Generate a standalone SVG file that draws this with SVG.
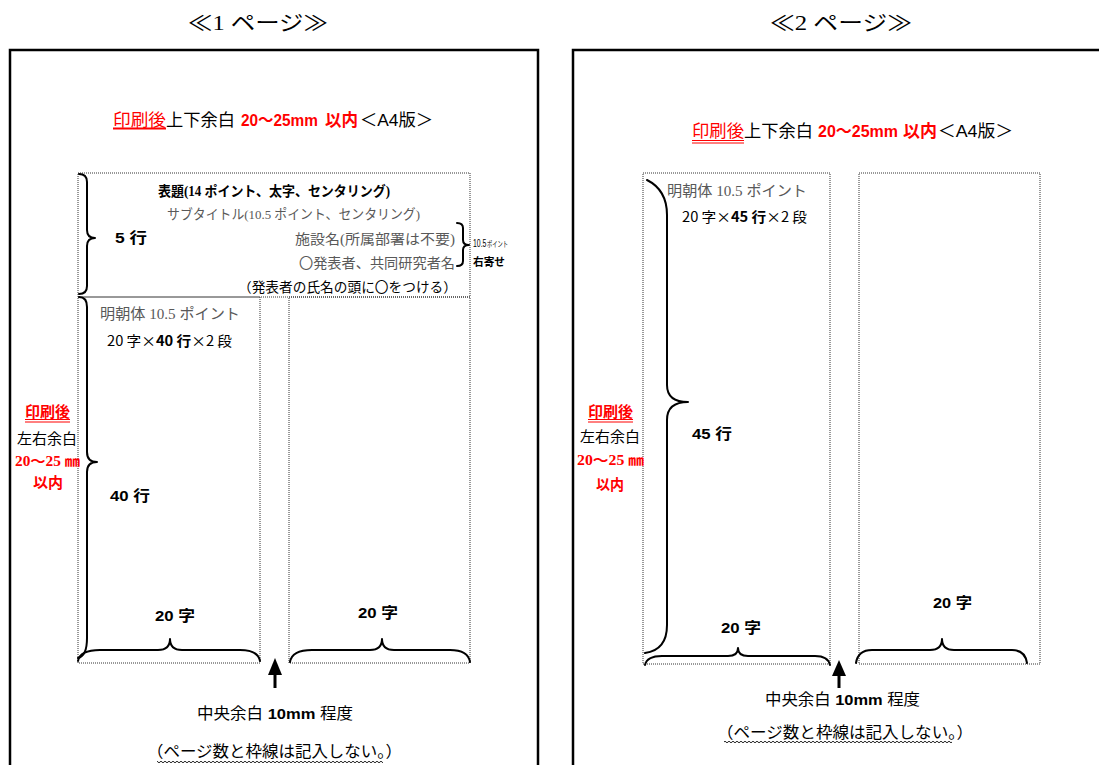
<svg xmlns="http://www.w3.org/2000/svg" width="1099" height="765" viewBox="0 0 1099 765">
<defs>
<style>
.frame{fill:none;stroke:#000;stroke-width:2.5}
.box{fill:none;stroke:#333;stroke-width:1;stroke-dasharray:1 1}
.brace{fill:none;stroke:#000;stroke-width:2;stroke-linecap:round;stroke-linejoin:round}
.serif{font-family:"Liberation Serif","Noto Sans CJK JP",serif}
.sans{font-family:"Liberation Sans","Noto Sans CJK JP",sans-serif}
.gray{fill:#595959}
.red{fill:#ff0000}
.b{font-weight:bold}
</style>
<pattern id="wave" x="0" y="0" width="4" height="4" patternUnits="userSpaceOnUse">
<path d="M0 2 Q1 0.4 2 2 T4 2" fill="none" stroke="#222" stroke-width="1"/>
</pattern>
</defs>
<rect width="1099" height="765" fill="#fff"/>

<g id="titles">
<text class="serif" x="188" y="30" font-size="21" textLength="140" lengthAdjust="spacingAndGlyphs">≪1 ページ≫</text>
<text class="serif" x="770" y="30" font-size="21" textLength="142" lengthAdjust="spacingAndGlyphs">≪2 ページ≫</text>
</g>

<g id="page1">
<path class="frame" d="M10 765 L10 50 L538 50 L538 765"/>
<rect class="box" x="78" y="173" width="392" height="124"/>
<rect class="box" x="78" y="297" width="182" height="366"/>
<rect class="box" x="289" y="297" width="181" height="366"/>
<g id="p1-margin-title" class="sans" font-size="17">
<text x="113" y="126" textLength="53" lengthAdjust="spacingAndGlyphs" class="red">印刷後</text>
<text x="166" y="126" textLength="69" lengthAdjust="spacingAndGlyphs">上下余白</text>
<text x="241" y="126" textLength="77" lengthAdjust="spacingAndGlyphs" class="red b">20〜25mm</text>
<text x="325" y="126" textLength="33" lengthAdjust="spacingAndGlyphs" class="red b">以内</text>
<text x="360" y="126" textLength="73" lengthAdjust="spacingAndGlyphs">＜A4版＞</text>
<line x1="113" y1="128.5" x2="166" y2="128.5" stroke="#f00" stroke-width="2"/>
</g>
<g id="p1-header">
<text class="serif b" x="158" y="196" font-size="14" textLength="232" lengthAdjust="spacingAndGlyphs">表題(14 ポイント、太字、センタリング)</text>
<text class="serif gray" x="167" y="219" font-size="13.5" textLength="253" lengthAdjust="spacingAndGlyphs">サブタイトル(10.5 ポイント、センタリング)</text>
<text class="serif gray" x="295" y="244" font-size="14" textLength="160" lengthAdjust="spacingAndGlyphs">施設名(所属部署は不要)</text>
<text class="gray" font-family="Noto Sans CJK JP, sans-serif" x="299" y="268" font-size="14" textLength="156" lengthAdjust="spacingAndGlyphs">〇発表者、共同研究者名</text>
<text font-family="Noto Sans CJK JP, sans-serif" x="238" y="292" font-size="13.5" textLength="219" lengthAdjust="spacingAndGlyphs">（発表者の氏名の頭に〇をつける）</text>
<text class="sans b" x="115" y="243" font-size="15" textLength="32" lengthAdjust="spacingAndGlyphs">5 行</text>
<text class="sans" x="473" y="247" font-size="10.5" textLength="35" lengthAdjust="spacingAndGlyphs">10.5<tspan font-size="8" dx="1">ポイント</tspan></text>
<text class="sans b" x="473" y="266" font-size="11" textLength="32" lengthAdjust="spacingAndGlyphs">右寄せ</text>
</g>
<g id="p1-body">
<text class="serif gray" x="100" y="319" font-size="15" textLength="140" lengthAdjust="spacingAndGlyphs">明朝体 10.5 ポイント</text>
<text font-family="Noto Sans CJK JP, sans-serif" x="107" y="346" font-size="14" textLength="125" lengthAdjust="spacingAndGlyphs">20 字×<tspan class="b">40 行</tspan>×2 段</text>
<text class="sans b" x="110" y="501" font-size="15" textLength="40" lengthAdjust="spacingAndGlyphs">40 行</text>
<text class="sans b" x="155" y="621" font-size="15" textLength="40" lengthAdjust="spacingAndGlyphs">20 字</text>
<text class="sans b" x="358" y="618" font-size="15" textLength="40" lengthAdjust="spacingAndGlyphs">20 字</text>
</g>
<g id="p1-side">
<text class="serif b red" x="25" y="417" font-size="14.5" textLength="45" lengthAdjust="spacingAndGlyphs">印刷後</text>
<line x1="25" y1="419.5" x2="70" y2="419.5" stroke="#f00" stroke-width="1"/>
<line x1="25" y1="422" x2="70" y2="422" stroke="#f00" stroke-width="1"/>
<text class="serif" x="17" y="444" font-size="14.5" textLength="60" lengthAdjust="spacingAndGlyphs">左右余白</text>
<text class="serif b red" x="15" y="466" font-size="14" textLength="65" lengthAdjust="spacingAndGlyphs">20〜25 ㎜</text>
<text class="serif b red" x="33" y="488" font-size="14.5" textLength="30" lengthAdjust="spacingAndGlyphs">以内</text>
</g>
<g id="p1-footer">
<text class="sans" x="197" y="719" font-size="15.5" textLength="156" lengthAdjust="spacingAndGlyphs">中央余白 <tspan class="b">10mm</tspan> 程度</text>
<text class="sans" x="147" y="757" font-size="16" textLength="255" lengthAdjust="spacingAndGlyphs">（ページ数と枠線は記入しない。）</text>
<rect x="157" y="760" width="226" height="4" fill="url(#wave)"/>
</g>
</g>

<g id="page2">
<path class="frame" d="M573 765 L573 50 L1101 50"/>
<rect class="box" x="643" y="173" width="187" height="491"/>
<rect class="box" x="859" y="173" width="181" height="491"/>
<g id="p2-margin-title" class="sans" font-size="17">
<text x="692" y="137" textLength="52" lengthAdjust="spacingAndGlyphs" class="red">印刷後</text>
<text x="744" y="137" textLength="69" lengthAdjust="spacingAndGlyphs">上下余白</text>
<text x="818" y="137" textLength="80" lengthAdjust="spacingAndGlyphs" class="red b">20〜25mm</text>
<text x="903" y="137" textLength="34" lengthAdjust="spacingAndGlyphs" class="red b">以内</text>
<text x="938" y="137" textLength="75" lengthAdjust="spacingAndGlyphs">＜A4版＞</text>
<line x1="692" y1="140.5" x2="744" y2="140.5" stroke="#f00" stroke-width="1"/>
<line x1="692" y1="143" x2="744" y2="143" stroke="#f00" stroke-width="1"/>
</g>
<g id="p2-body">
<text class="serif gray" x="667" y="196" font-size="15" textLength="140" lengthAdjust="spacingAndGlyphs">明朝体 10.5 ポイント</text>
<text font-family="Noto Sans CJK JP, sans-serif" x="682" y="222" font-size="14" textLength="125" lengthAdjust="spacingAndGlyphs">20 字×<tspan class="b">45 行</tspan>×2 段</text>
<text class="sans b" x="692" y="439" font-size="15" textLength="40" lengthAdjust="spacingAndGlyphs">45 行</text>
<text class="sans b" x="721" y="633" font-size="15" textLength="40" lengthAdjust="spacingAndGlyphs">20 字</text>
<text class="sans b" x="933" y="608" font-size="15" textLength="39" lengthAdjust="spacingAndGlyphs">20 字</text>
</g>
<g id="p2-side">
<text class="serif b red" x="588" y="417" font-size="14.5" textLength="45" lengthAdjust="spacingAndGlyphs">印刷後</text>
<line x1="588" y1="419.5" x2="633" y2="419.5" stroke="#f00" stroke-width="1"/>
<line x1="588" y1="422" x2="633" y2="422" stroke="#f00" stroke-width="1"/>
<text class="serif" x="580" y="442" font-size="14.5" textLength="60" lengthAdjust="spacingAndGlyphs">左右余白</text>
<text class="serif b red" x="577" y="465" font-size="14" textLength="67" lengthAdjust="spacingAndGlyphs">20〜25 ㎜</text>
<text class="serif b red" x="596" y="490" font-size="14.5" textLength="28" lengthAdjust="spacingAndGlyphs">以内</text>
</g>
<g id="p2-footer">
<text class="sans" x="765" y="705" font-size="15.5" textLength="155" lengthAdjust="spacingAndGlyphs">中央余白 <tspan class="b">10mm</tspan> 程度</text>
<text class="sans" x="717" y="738" font-size="16" textLength="256" lengthAdjust="spacingAndGlyphs">（ページ数と枠線は記入しない。）</text>
<rect x="724" y="740" width="228" height="4" fill="url(#wave)"/>
</g>
</g>

<g id="connectors">
<path class="brace" d="M79 174 Q87 174 87 182 L87 230 Q87 238 95 238 Q87 238 87 246 L87 286 Q87 294 79 294"/>
<path class="brace" d="M79 297 Q87 297 87 307 L87 452 Q87 462 97 462 Q87 462 87 472 L87 638 Q87 656 78 658"/>
<path class="brace" d="M457 223 Q463 223 463 228 L463 240 Q463 245 469 245 Q463 245 463 250 L463 261 Q463 266 457 266"/>
<path class="brace" d="M78 661 Q80 650 100 650 L158 650 Q170 650 170 639 Q170 650 182 650 L240 650 Q258 650 260 661"/>
<path class="brace" d="M290 662 Q292 650 312 650 L370 650 Q382 650 382 639 Q382 650 394 650 L450 650 Q468 650 470 662"/>
<path class="brace" d="M647 180 Q667 190 667 215 L667 385 Q667 402 688 402 Q667 402 667 420 L667 625 Q667 650 645 653"/>
<path class="brace" d="M645 665 Q647 656 662 656 L728 656 Q738 656 738 648 Q738 656 748 656 L815 656 Q828 656 830 665"/>
<path class="brace" d="M856 663 Q858 650 872 650 L930 650 Q942 650 942 639 Q942 650 954 650 L1012 650 Q1025 650 1027 663"/>
<polygon points="275,658 268,675 282,675" fill="#000"/>
<rect x="273.5" y="674" width="3" height="14" fill="#000"/>
<polygon points="839,660 832,676 846,676" fill="#000"/>
<rect x="837.5" y="675" width="3" height="13" fill="#000"/>
</g>
</svg>
